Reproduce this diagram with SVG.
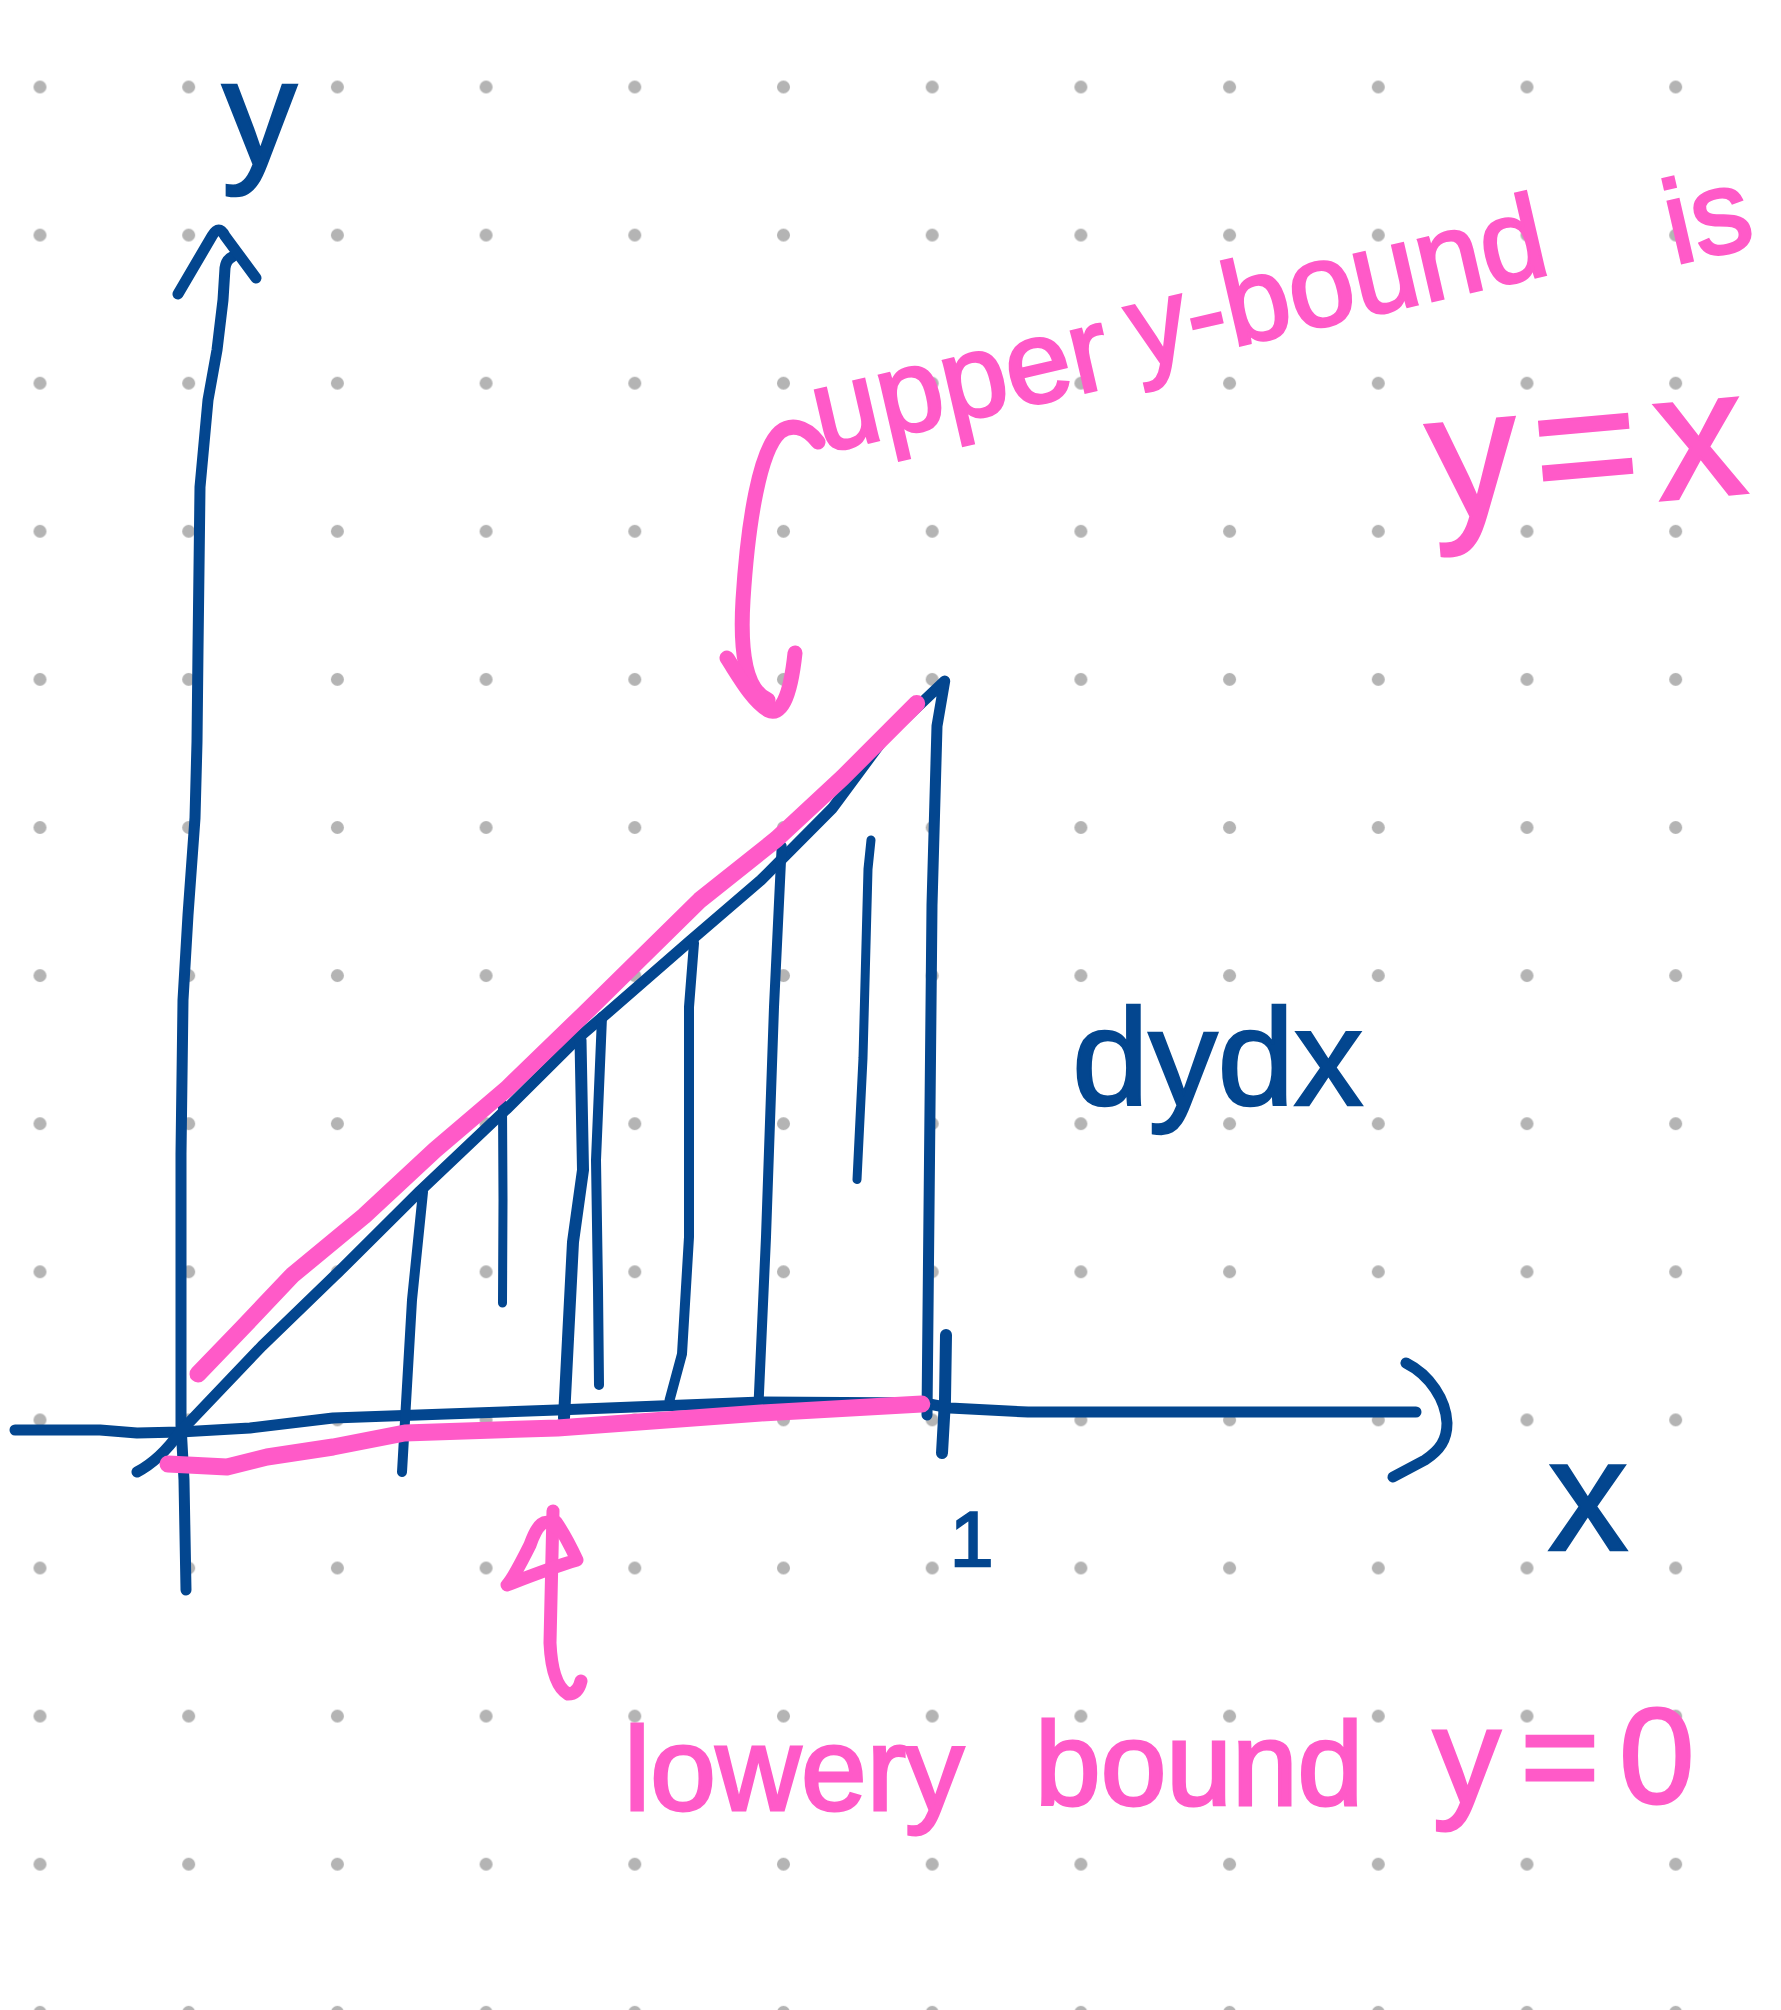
<svg xmlns="http://www.w3.org/2000/svg" width="1781" height="2010" viewBox="0 0 1781 2010">
  <defs>
    <pattern id="dots" x="-34.35" y="12.95" width="148.7" height="148.1" patternUnits="userSpaceOnUse">
      <circle cx="74.35" cy="74.05" r="6.5" fill="#b4b4b4"/>
    </pattern>
    <style>
      .blue { fill: none; stroke: #03468f; stroke-linecap: round; stroke-linejoin: round; }
      .pink { fill: none; stroke: #ff5ac8; stroke-linecap: round; stroke-linejoin: round; }
      .tb { fill: #03468f; stroke: #03468f; stroke-width: 2.5; font-family: "Liberation Sans", Arial, sans-serif; }
      .tp { fill: #ff5ac8; stroke: #ff5ac8; stroke-width: 3; font-family: "Liberation Sans", Arial, sans-serif; }
    </style>
  </defs>
  <rect width="1781" height="2010" fill="#ffffff"/>
  <rect id="dot-grid" width="1781" height="2010" fill="url(#dots)"/>

  <g id="axes" stroke-width="11">
    <path class="blue" stroke-width="11" d="M186,1590 L184,1480 L181,1425 L181,1300 L181,1154 L183,1000 L188,915 L195,818 L197,742 L198,650 L200,487 L208,400 L217,350 L223,300 L225,268 Q226,260 232,257"/>
    <path class="blue" stroke-width="11" d="M178,294 L212,236 Q219,224 225,236 L256,278"/>
    <path class="blue" stroke-width="11" d="M15,1430 L100,1430 L137,1433 L180,1432 L250,1428 L333,1418 L557,1410 L761,1402 L924,1403 L950,1408 L1028,1412 L1416,1412"/>
    <path class="blue" stroke-width="11" d="M1406,1363 C1430,1375 1446,1400 1447,1423 C1447,1440 1440,1450 1425,1460 L1393,1477"/>
    <path class="blue" stroke-width="12" d="M946,1335 L945,1400 L942,1453"/>
  </g>

  <g id="region">
    <path class="blue" stroke-width="11" d="M137,1472 Q160,1460 180,1432 L262,1346 L343.6,1267 L420,1191 L506.6,1109 L578,1038 L608.5,1012 L690,941 L761,880 L832.6,808 L883.6,739 L944.7,681 L937,726 L932,905 L929.5,1160 L927,1415"/>
    <path class="blue" stroke-width="10" d="M423,1192 L412,1300 L402,1472"/>
    <path class="blue" stroke-width="9" d="M502.5,1104 L503,1200 L502.5,1303"/>
    <path class="blue" stroke-width="12" d="M580.5,1040 L583,1170 L573,1242 L568,1339 L564,1418"/>
    <path class="blue" stroke-width="10" d="M602,1017 L596,1160 L598,1288 L599,1385"/>
    <path class="blue" stroke-width="10" d="M694,943 L689,1007 L689,1237 L682,1354 L669.6,1400"/>
    <path class="blue" stroke-width="10" d="M781.7,846 L774,1007 L766,1237 L758.7,1400"/>
    <path class="blue" stroke-width="9" d="M871,840 L868,869 L863,1058 L857,1179.6"/>
  </g>

  <g id="bounds">
    <path class="pink" stroke-width="17" d="M198,1374 L241.7,1328.6 L292.6,1275 L364,1216 L435,1150 L506.6,1089 L583,1015 L700,900 L776.6,839 L842.8,777.5 L916.7,703.6"/>
    <path class="pink" stroke-width="17" d="M168,1464 L227,1467 L267,1457 L333,1447 L404.7,1433 L557.5,1428 L761,1413 L921.8,1404"/>
  </g>

  <g id="connectors">
    <path class="pink" stroke-width="15" d="M818,442 C805,425 790,424 780,432 C760,450 748,520 743,600 C740,650 745,690 768,700"/>
    <path class="pink" stroke-width="15" d="M727,658 C740,678 752,700 768,710 C780,716 790,700 795,653"/>
    <path class="pink" stroke-width="13" d="M553,1511 L550,1643 Q552,1685 568,1694 Q578,1694 581,1681"/>
    <path class="pink" stroke-width="13" d="M556,1528 C545,1515 537,1525 530,1545 C520,1565 512,1580 507,1585 C520,1580 550,1568 577,1560 C570,1545 565,1535 556,1522"/>
  </g>

  <g id="labels">
    <text class="tb" x="222" y="165" font-size="150">y</text>
    <text class="tb" x="1548" y="1550" font-size="160">x</text>
    <text class="tb" x="950" y="1566" font-size="78">1</text>
    <text class="tb" x="1072" y="1105" font-size="138" textLength="291" lengthAdjust="spacing">dydx</text>
    <text class="tp" font-size="118" transform="rotate(-13 822 453)"><tspan x="822" y="453">upper</tspan> <tspan x="1148" y="442">y-bound</tspan> <tspan x="1695" y="461">is</tspan></text>
    <text class="tp" x="1433" y="520" font-size="180" textLength="317" lengthAdjust="spacing" transform="rotate(-5 1433 520)">y=x</text>
    <text class="tp" font-size="118"><tspan x="624" y="1810">lower</tspan> <tspan x="905" y="1810">y</tspan> <tspan x="1035" y="1805">bound</tspan> <tspan x="1433" y="1803" font-size="135" letter-spacing="20">y=0</tspan></text>
  </g>
</svg>
